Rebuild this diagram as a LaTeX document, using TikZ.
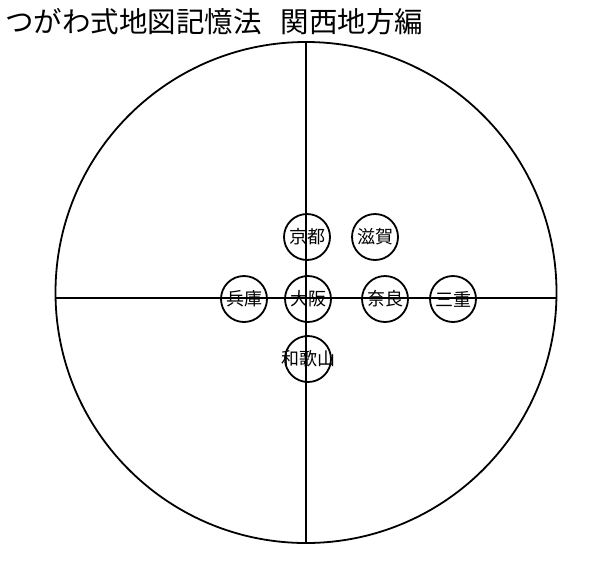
\documentclass[tikz,border=0pt]{standalone}
\usepackage{fontspec}
\setmainfont{Noto Sans CJK JP}
\begin{document}
\begin{tikzpicture}[x=1pt,y=-1pt,
  pref/.style={circle,draw,line width=1.8pt,minimum size=46pt,inner sep=0pt,font=\fontsize{18}{18}\selectfont},
  axis/.style={line width=1.8pt}]
\useasboundingbox (0,0) rectangle (596,560);
\node[anchor=west,inner sep=0pt,font=\fontsize{28.5}{28.5}\selectfont] (title) at (5,22) {つがわ式地図記憶法\hspace{19pt}関西地方編};
\node[circle,draw,line width=1.8pt,minimum size=501pt,inner sep=0pt] (big) at (306,292.5) {};
\coordinate (hl) at (55.5,298);
\coordinate (hr) at (556.5,298);
\coordinate (vt) at (306,42);
\coordinate (vb) at (306,543);
\draw[axis] (hl) -- (hr);
\draw[axis] (vt) -- (vb);
\node[pref] (kyoto) at (307,237) {\makebox[0pt]{京都}};
\node[pref] (shiga) at (375,237) {\makebox[0pt]{滋賀}};
\node[pref] (hyogo) at (244,299) {\makebox[0pt]{兵庫}};
\node[pref] (osaka) at (308,299) {\makebox[0pt]{大阪}};
\node[pref] (nara) at (385,299) {\makebox[0pt]{奈良}};
\node[pref] (mie) at (453,299) {\makebox[0pt]{三重}};
\node[pref] (wakayama) at (308,359) {\makebox[0pt]{和歌山}};
\end{tikzpicture}
\end{document}
